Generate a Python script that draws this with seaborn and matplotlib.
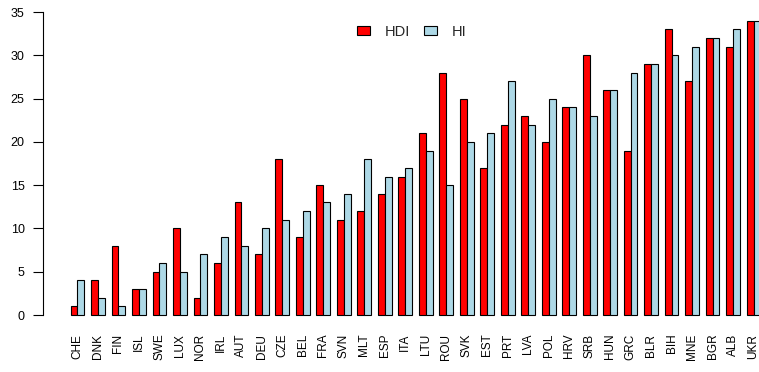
import matplotlib
matplotlib.use("Agg")
import matplotlib.pyplot as plt
from matplotlib.patches import Patch
import seaborn as sns
import pandas as pd

countries = ["CHE", "DNK", "FIN", "ISL", "SWE", "LUX", "NOR", "IRL", "AUT", "DEU",
             "CZE", "BEL", "FRA", "SVN", "MLT", "ESP", "ITA", "LTU", "ROU", "SVK",
             "EST", "PRT", "LVA", "POL", "HRV", "SRB", "HUN", "GRC", "BLR", "BIH",
             "MNE", "BGR", "ALB", "UKR"]
hdi = [1, 4, 8, 3, 5, 10, 2, 6, 13, 7,
       18, 9, 15, 11, 12, 14, 16, 21, 28, 25,
       17, 22, 23, 20, 24, 30, 26, 19, 29, 33,
       27, 32, 31, 34]
hi = [4, 2, 1, 3, 6, 5, 7, 9, 8, 10,
      11, 12, 13, 14, 18, 16, 17, 19, 15, 20,
      21, 27, 22, 25, 24, 23, 26, 28, 29, 30,
      31, 32, 33, 34]
series = ["HDI", "HI"]
colors = {"HDI": "#FF0000", "HI": "#ADD8E6"}

df = pd.DataFrame({
    "country": countries * 2,
    "rank": hdi + hi,
    "index": ["HDI"] * len(countries) + ["HI"] * len(countries),
})

sns.set_style("white")
plt.rcParams["font.family"] = ["Liberation Sans", "DejaVu Sans"]

W, H = 759, 372
fig = plt.figure(figsize=(W / 100, H / 100), dpi=100)
left_px, right_px, top_px, bottom_px = 43, 759, 8.9, 326.8
ax = fig.add_axes([left_px / W, 1 - bottom_px / H,
                   (right_px - left_px) / W, (bottom_px - top_px) / H])

sns.barplot(data=df, x="country", y="rank", hue="index", order=countries,
            hue_order=series, palette=colors, width=2 / 3, gap=0,
            edgecolor="black", linewidth=0.8, saturation=1, errorbar=None,
            legend=False, ax=ax)

# group spacing: two bars of width 1/3 followed by a gap of 1/3
unit = (right_px - left_px) / 6.83 / 3
ax.set_xlim(-1.68, -1.68 + unit)
ax.set_ylim(-1.36, 35.36)
ax.set_yticks(range(0, 36, 5))
ax.set_xlabel("")
ax.set_ylabel("")

for s in ["top", "right", "bottom"]:
    ax.spines[s].set_visible(False)
ax.spines["left"].set_bounds(0, 35)
ax.spines["left"].set_linewidth(0.8)
ax.spines["left"].set_color("black")

ax.tick_params(axis="y", left=True, length=7.2, width=0.8, pad=6,
               labelsize=9, colors="black")
ax.tick_params(axis="x", bottom=False, length=0, pad=5, labelsize=8.5,
               labelrotation=90, colors="black")
for lab in ax.get_xticklabels():
    lab.set_verticalalignment("top")

handles = [Patch(facecolor=colors[s], edgecolor="black", linewidth=0.8) for s in series]
ax.legend(handles, series, ncol=2, frameon=False, loc="center",
          bbox_to_anchor=(0.515, 0.928), fontsize=10.5, handlelength=0.85,
          handleheight=0.6, handletextpad=1.0, columnspacing=1.0)

fig.savefig("out.png", dpi=100)
